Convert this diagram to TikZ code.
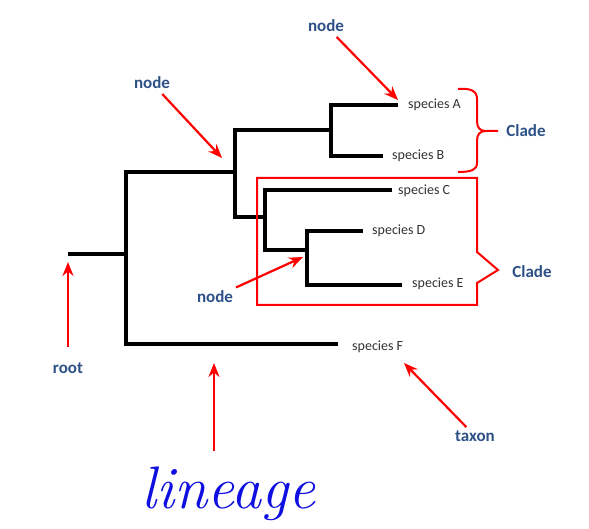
\documentclass[tikz,border=0pt]{standalone}
\usepackage{fontspec}
\newfontfamily\calib{Carlito}
\usetikzlibrary{arrows.meta}
\definecolor{labelblue}{RGB}{45,80,135}
\definecolor{textgray}{RGB}{50,50,50}
\definecolor{inkblue}{RGB}{15,15,225}

\begin{document}
\begin{tikzpicture}[x=1pt,y=-1pt,
  branch/.style={line width=4pt},
  pointer/.style={red, line width=2.2pt, -{Stealth[length=14pt,width=11pt]}},
  sp/.style={text=textgray, font=\calib\fontsize{14}{16}\selectfont, inner sep=0pt, anchor=west},
  tag/.style={text=labelblue, font=\calib\bfseries\fontsize{17}{19}\selectfont},
  cladebox/.style={red, line width=2pt, line join=miter}]
  \useasboundingbox (0,0) rectangle (589,529);
  %--- Tree ---
  \draw[branch] (68,254) -- (126,254);
  \draw[branch] (338,344) -- (126,344) -- (126,172) -- (235,172);
  \draw[branch] (331,130) -- (235,130) -- (235,217) -- (265,217);
  \draw[branch] (398,105) -- (331,105) -- (331,156) -- (383,156);
  \draw[branch] (392,190) -- (265,190) -- (265,250) -- (307,250);
  \draw[branch] (363,231) -- (307,231) -- (307,285) -- (402,285);
  % taxa
  \node[sp] (spA) at (408,105) {species A};
  \node[sp] (spB) at (392,156) {species B};
  \node[sp] (spC) at (398,191) {species C};
  \node[sp] (spD) at (372,231) {species D};
  \node[sp] (spE) at (412,284) {species E};
  \node[sp] (spF) at (352,347) {species F};
  %--- Clades ---
  \draw[cladebox] (458,89) .. controls (471,88) and (477,91) .. (477,99) -- (477,121)
    .. controls (477,128) and (480,131) .. (486,131) -- (498,131);
  \draw[cladebox] (486,131) .. controls (480,131) and (477,134) .. (477,141) -- (477,163)
    .. controls (477,170) and (471,172) .. (458,172);
  \draw[cladebox] (257,178) -- (477,178) -- (477,252) -- (498,270) -- (477,283)
    -- (477,305) -- (257,305) -- cycle;
  \node[tag] (cladeA) at (526,131) {Clade};
  \node[tag] (cladeB) at (532,272) {Clade};
  %--- Labels and pointers ---
  \coordinate (tipA) at (398,100);
  \coordinate (tipL) at (222,158);
  \coordinate (tipD) at (303,257);
  \coordinate (tipR) at (68,262);
  \coordinate (tipG) at (214,363);
  \coordinate (tipF) at (404,363);
  \node[tag] (nodeA) at (326,26) {node};
  \node[tag] (nodeL) at (152,83) {node};
  \node[tag] (nodeD) at (215,297) {node};
  \node[tag] (root) at (68,368) {root};
  \node[tag] (taxon) at (475,436) {taxon};
  \node[text=inkblue, font=\itshape\fontsize{60}{60}\selectfont, anchor=base, inner sep=0pt]
    (lineage) at (228,508) {lineage};
  \draw[pointer, shorten <=2pt] (nodeA) -- (tipA);
  \draw[pointer, shorten <=2pt] (nodeL) -- (tipL);
  \draw[pointer] (nodeD) -- (tipD);
  \draw[pointer, shorten <=12pt] (root) -- (tipR);
  \draw[pointer, shorten <=15pt] (tipG |- lineage.north) -- (tipG);
  \draw[pointer] (taxon) -- (tipF);
\end{tikzpicture}
\end{document}
